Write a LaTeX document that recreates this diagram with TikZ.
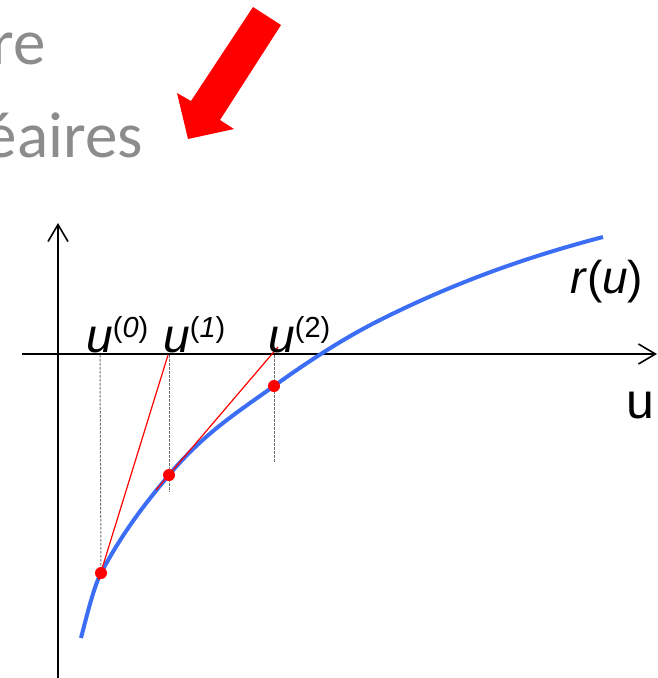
\documentclass[tikz,border=0pt]{standalone}
\usepackage{fontspec}
\setmainfont{Liberation Sans}
\newfontfamily\carlito{Carlito}
\usetikzlibrary{arrows.meta}
\definecolor{curveblue}{RGB}{59,110,245}
\definecolor{titlegray}{RGB}{140,140,140}
\definecolor{guidegray}{RGB}{110,110,110}
\newcommand{\suplab}[1]{\raisebox{15pt}{\fontsize{29}{30}\selectfont(#1)}}
\begin{document}
\begin{tikzpicture}[x=1pt,y=-1pt,
  axisline/.style={line width=1.8pt, -{Straight Barb[length=17pt,width=20pt,line width=1.6pt]}},
  curveline/.style={curveblue, line width=4pt},
  tangent/.style={red, line width=1.2pt},
  guide/.style={guidegray, line width=1pt, dash pattern=on 2.5pt off 1.5pt},
  dotpt/.style={red},
  titletext/.style={anchor=base east, inner sep=0pt, text=titlegray, font=\carlito\fontsize{65}{78}\selectfont},
  lab/.style={anchor=base west, inner sep=0pt, font=\fontsize{48}{50}\selectfont}
]
\useasboundingbox (0,0) rectangle (657,678);
\clip (0,0) rectangle (657,678);

% title fragments
\node[titletext] (t1) at (46,64) {re};
\node[titletext] (t2) at (143,157) {éaires};

% red block arrow
\fill[red] (253,7) -- (281,25) -- (220,120) -- (234,129) -- (188,139) -- (177,93) -- (191,101) -- cycle;

% axes
\coordinate (xs) at (22,354);
\coordinate (xe) at (657,354);
\coordinate (ys) at (58,678);
\coordinate (ye) at (58,223);
\draw[axisline] (xs) -- (xe);
\draw[axisline] (ys) -- (ye);

% points
\coordinate (c0) at (81,638);
\coordinate (p0) at (101,573);
\coordinate (p1) at (169,475);
\coordinate (p2) at (274,386);
\coordinate (c3) at (380,320);
\coordinate (c4) at (480,276);
\coordinate (c5) at (603,237);
\coordinate (a0) at (100,355);
\coordinate (a1) at (169,355);
\coordinate (a2) at (274,355);
\coordinate (g1) at (169,492);
\coordinate (g2) at (274,463);
\coordinate (t0s) at (98.5,580);
\coordinate (t0e) at (168,355);
\coordinate (t1s) at (156,490);
\coordinate (t1e) at (278,347);

% guides
\draw[guide] (a0) -- (p0);
\draw[guide] (a1) -- (g1);
\draw[guide] (a2) -- (g2);

% curve
\draw[curveline] (c0)
  .. controls (87.7,612) and (94.3,585.7) .. (p0)
  .. controls (123.7,530.5) and (146.3,502.2) .. (p1)
  .. controls (204,433) and (239,411.2) .. (p2)
  .. controls (309.3,360.6) and (344.7,337.7) .. (c3)
  .. controls (413.3,303.3) and (446.7,288.7) .. (c4)
  .. controls (521,260.4) and (562,247.7) .. (c5);

% tangents
\draw[tangent] (t0s) -- (t0e);
\draw[tangent] (t1s) -- (t1e);

% dots
\fill[dotpt] (p0) circle (6pt);
\fill[dotpt] (p1) circle (6pt);
\fill[dotpt] (p2) circle (6pt);

% labels
\node[lab] (l0) at (86,352) {\textit{u}\suplab{\textit{0}}};
\node[lab] (l1) at (163,352) {\textit{u}\suplab{\textit{1}}};
\node[lab] (l2) at (268,352) {\textit{u}\suplab{2}};
\node[anchor=base west, inner sep=0pt, font=\fontsize{46}{48}\selectfont] (rl) at (570,293) {\textit{r}(\textit{u})};
\node[anchor=base east, inner sep=0pt, font=\fontsize{50}{52}\selectfont] (ul) at (655,418) {u};
\end{tikzpicture}
\end{document}
